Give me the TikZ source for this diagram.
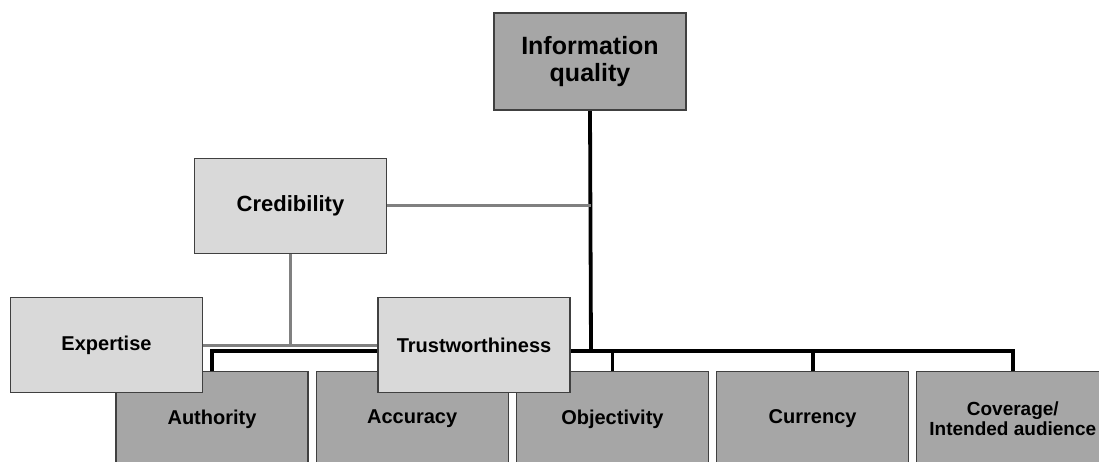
\documentclass[tikz,border=0pt]{standalone}
\usepackage{fontspec}
\setmainfont{Liberation Sans}
\usetikzlibrary{positioning, backgrounds}
\definecolor{darkfill}{HTML}{A6A6A6}
\definecolor{lightfill}{HTML}{D9D9D9}
\definecolor{boxedge}{HTML}{404040}
\definecolor{linkgray}{HTML}{808080}
\tikzstyle{block} = [rectangle, minimum width=192pt, minimum height=95pt, text centered, align=center, draw=boxedge, line width=1.2pt, font=\fontsize{20}{20}\selectfont\bfseries]
\tikzstyle{darkblock} = [block, fill=darkfill]
\tikzstyle{lightblock} = [block, fill=lightfill]
\tikzstyle{busline} = [line width=3.8pt, black]
\tikzstyle{grayline} = [line width=3pt, linkgray]

\begin{document}
\begin{tikzpicture}[x=1pt, y=-1pt, node distance=7pt]

    \useasboundingbox (0,0) rectangle (1099,462);
    \clip (0,0) rectangle (1099,462);

    % Top block
    \node (info) [darkblock, minimum height=97pt, font=\fontsize{25}{27}\selectfont\bfseries] at (590,61.5) {Information\\quality};

    % Middle block
    \node (credibility) [lightblock, font=\fontsize{22}{22}\selectfont\bfseries] at (290.5,206) {Credibility};

    % Bottom row
    \node (authority) [darkblock] at (212,419) {Authority};
    \node (accuracy) [darkblock, right=of authority] {Accuracy};
    \node (objectivity) [darkblock, right=of accuracy] {Objectivity};
    \node (currency) [darkblock, right=of objectivity] {Currency};
    \node (coverage) [darkblock, right=of currency, font=\fontsize{19}{20}\selectfont\bfseries] {Coverage/\\Intended audience};

    % Blocks on top of the bottom row
    \node (expertise) [lightblock] at (106.5,345) {Expertise};
    \node (trust) [lightblock] at (474,345) {Trustworthiness};

    \coordinate (bus) at (591,351);

    \begin{pgfonlayer}{background}
        \draw [busline] (info.south) -- (bus);
        \draw [busline] (authority.north) -- (authority.north |- bus) -- (coverage.north |- bus) -- (coverage.north);
        \foreach \n in {accuracy, objectivity, currency}
            \draw [busline] (\n.north) -- (\n.north |- bus);

        \draw [grayline] (credibility.east) -- (credibility.east -| bus);
        \draw [grayline] (credibility.south) -- (credibility.south |- expertise.east);
        \draw [grayline] (expertise.east) -- (trust.west);
    \end{pgfonlayer}

\end{tikzpicture}
\end{document}
